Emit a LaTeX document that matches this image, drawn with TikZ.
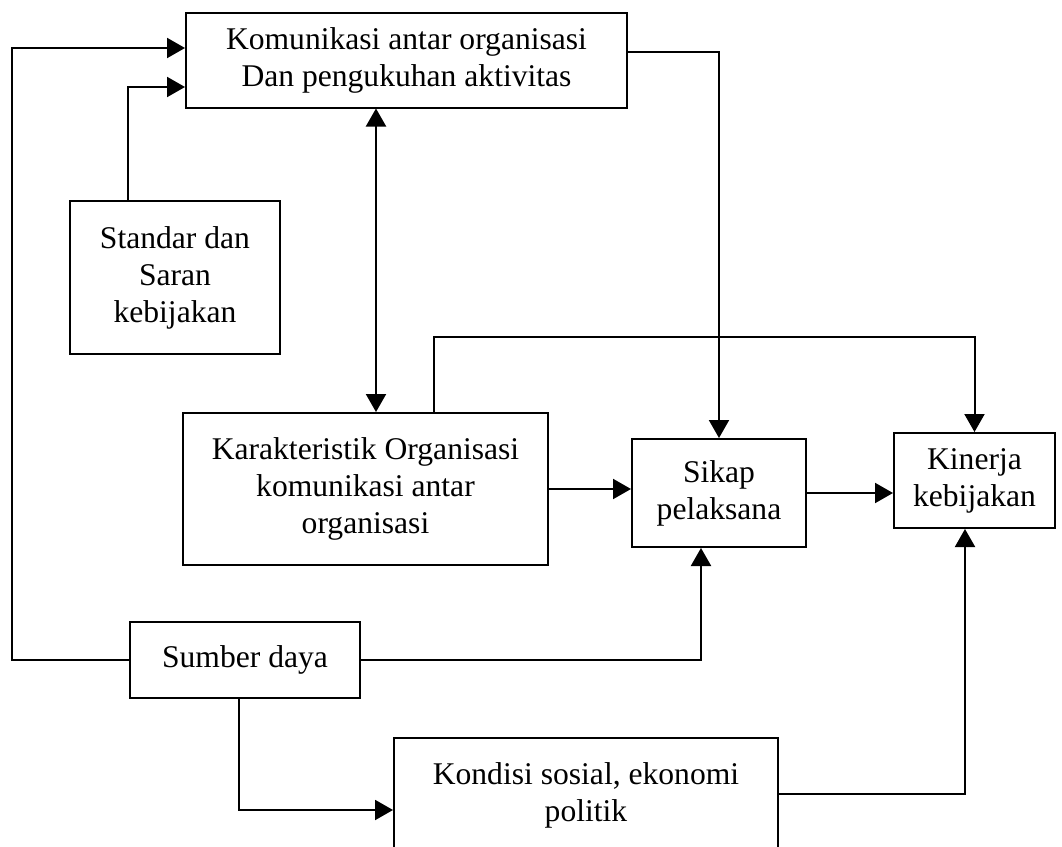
\documentclass[tikz,border=0pt]{standalone}
\usepackage{fontspec}
\setmainfont{Liberation Serif}
\usetikzlibrary{arrows.meta}
\tikzset{box/.style={draw, line width=1pt, inner sep=0pt, align=center,
    font=\fontsize{15.8}{18.5}\selectfont},
  arr/.style={-{Triangle[length=9pt,width=10pt]}, line width=1pt},
  dbl/.style={{Triangle[length=9pt,width=10pt]}-{Triangle[length=9pt,width=10pt]}, line width=1pt}}

\begin{document}
\begin{tikzpicture}[x=0.5pt, y=-0.5pt]
  \useasboundingbox (0,0) rectangle (1062,847);

  \node[box, minimum width=220.5pt, minimum height=47.5pt] (kom) at (406.5,60)
    {Komunikasi antar organisasi\\Dan pengukuhan aktivitas};
  \node[box, minimum width=105pt, minimum height=76.5pt] (std) at (175,277.5)
    {Standar dan\\Saran\\kebijakan};
  \node[box, minimum width=182.5pt, minimum height=76pt] (kar) at (365.5,489)
    {Karakteristik Organisasi\\komunikasi antar\\organisasi};
  \node[box, minimum width=87pt, minimum height=54pt] (sik) at (719,493)
    {Sikap\\pelaksana};
  \node[box, minimum width=80.5pt, minimum height=47.5pt] (kin) at (974.5,480.5)
    {Kinerja\\kebijakan};
  \node[box, minimum width=115pt, minimum height=38pt] (sum) at (245,660)
    {Sumber daya};
  \node[box, minimum width=192pt, minimum height=57pt] (kon) at (586,795)
    {Kondisi sosial, ekonomi\\politik};

  % bends
  \coordinate (kl) at (12,48);
  \coordinate (sk) at (128,87);
  \coordinate (ka) at (376,0);
  \coordinate (kk) at (719,52);
  \coordinate (lp) at (434,337);
  \coordinate (sb) at (701,660);
  \coordinate (sd) at (239,810);
  \coordinate (kr) at (965,794);

  \draw [arr] (sum.west) -| (kl) -- (kom.west |- kl);
  \draw [arr] (std.north -| sk) |- (kom.west |- sk);
  \draw [dbl] (kar.north -| ka) -- (kom.south -| ka);
  \draw [arr] (kom.east |- kk) -| (sik.north);
  \draw [arr] (kar.north -| lp) -- (lp) -| (kin.north);
  \draw [arr] (kar.east) -- (kar.east -| sik.west);
  \draw [arr] (sik.east) -- (sik.east -| kin.west);
  \draw [arr] (sum.east) -| (sik.south -| sb);
  \draw [arr] (sum.south -| sd) |- (kon.west |- sd);
  \draw [arr] (kon.east |- kr) -- (kr) -- (kin.south -| kr);
\end{tikzpicture}
\end{document}
